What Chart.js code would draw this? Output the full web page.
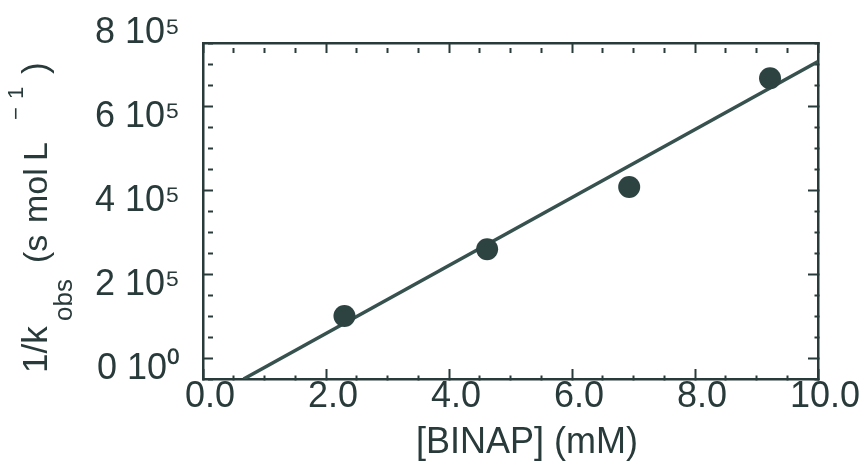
<!DOCTYPE html>
<html>
<head>
<meta charset="utf-8">
<script src="https://cdn.jsdelivr.net/npm/chart.js@4"></script>
<style>
body{margin:0;background:#fff;}
</style>
</head>
<body>
<canvas id="myChart" width="865" height="470"></canvas>
<script>
// measured points: [BINAP] (mM) vs 1/kobs (s mol L-1)
var binap = [2.30, 4.62, 6.93, 9.22];
var invKobs = [100000, 259000, 407000, 666000];

// straight fit line, two ends
var fitX = [0.66, 10];
var fitY = [-50000, 706000];

var xTicks = [0, 2, 4, 6, 8, 10];
var xTickLabels = ['0.0', '2.0', '4.0', '6.0', '8.0', '10.0'];
var yTicks = [0, 200000, 400000, 600000, 800000];
var yTickLabels = ['0 10\u2070', '2 10\u2075', '4 10\u2075', '6 10\u2075', '8 10\u2075'];

var ink = '#283a39';
var font = 'Liberation Sans';

var pts = [];
for (let i = 0; i < binap.length; i++) {
    pts.push({x: binap[i], y: invKobs[i]});
}
var fit = [];
for (let i = 0; i < fitX.length; i++) {
    fit.push({x: fitX[i], y: fitY[i]});
}

function isMajorX(v) { return xTicks.indexOf(v) >= 0; }
function isMajorY(v) { return yTicks.indexOf(v) >= 0; }

function gridFor(isMajor) {
    return {
        drawOnChartArea: false,
        drawTicks: true,
        tickLength: -10,
        tickWidth: 2,
        tickColor: function(c) { return c.tick && c.tick.value > 750000 ? 'rgba(0,0,0,0)' : ink; },
        tickBorderDash: function(c) { return c.tick && isMajor(c.tick.value) ? [] : [5, 60]; }
    };
}
var border = {display: true, color: ink, width: 2.5};

// no extra room for labels hanging over the ends
function noPad(s) {
    s.paddingTop = 0; s.paddingBottom = 0; s.paddingLeft = 0; s.paddingRight = 0;
}

// axis titles with sub/superscripts
var titles = {
    id: 'titles',
    afterDraw: function(chart) {
        var ctx = chart.ctx;
        ctx.save();
        ctx.fillStyle = ink;
        ctx.textBaseline = 'alphabetic';
        ctx.font = '36px "' + font + '"';
        ctx.textAlign = 'center';
        ctx.fillText('[BINAP] (mM)', 527, 453);

        ctx.textAlign = 'left';
        ctx.translate(47, 373);
        ctx.rotate(-Math.PI / 2);
        // text, start, size, shift
        var parts = [
            ['1/k', 0, 35, 0],
            ['obs', 52, 26, 25],
            ['(s', 110, 34, 0],
            ['mol', 150, 34, 0],
            ['L', 212, 34, 0],
            ['\u2212', 253, 22, -24],
            ['1', 274, 22, -24],
            [')', 299, 35, 0]
        ];
        for (let i = 0; i < parts.length; i++) {
            ctx.font = parts[i][2] + 'px "' + font + '"';
            ctx.fillText(parts[i][0], parts[i][1], parts[i][3]);
        }
        ctx.restore();
    }
};

var ctx = document.getElementById('myChart').getContext('2d');
var chart = new Chart(ctx, {
    type: 'scatter',
    data: {
        datasets: [{
            label: 'data',
            data: pts,
            backgroundColor: '#2c4341',
            borderWidth: 0,
            pointRadius: 11,
            order: 0
        }, {
            label: 'fit',
            type: 'line',
            data: fit,
            borderColor: '#37514f',
            borderWidth: 3.5,
            pointRadius: 0,
            fill: false,
            order: 1
        }]
    },
    options: {
        responsive: false,
        animation: false,
        layout: {padding: 0},
        plugins: {legend: {display: false}, tooltip: {enabled: false}},
        scales: {
            x: {
                type: 'linear', position: 'bottom', min: 0, max: 10,
                afterFit: function(s) { s.height = 91; noPad(s); },
                grid: gridFor(isMajorX), border: border,
                ticks: {
                    stepSize: 0.5, autoSkip: false, maxRotation: 0, padding: 6, labelOffset: 7,
                    color: ink, font: {family: font, size: 36},
                    callback: function(v) { var i = xTicks.indexOf(v); return i >= 0 ? xTickLabels[i] : ''; }
                }
            },
            x2: {
                type: 'linear', position: 'top', min: 0, max: 10,
                afterFit: function(s) { s.height = 43; noPad(s); },
                grid: gridFor(isMajorX), border: border,
                ticks: {stepSize: 0.5, autoSkip: false, display: false}
            },
            y: {
                type: 'linear', position: 'left', min: -50000, max: 750000,
                afterFit: function(s) { s.width = 203; noPad(s); },
                afterBuildTicks: function(s) { s.ticks.push({value: 800000}); },
                grid: gridFor(isMajorY), border: border,
                ticks: {
                    stepSize: 50000, autoSkip: false, padding: 33, labelOffset: 11,
                    color: ink, font: {family: font, size: 36},
                    callback: function(v) { var i = yTicks.indexOf(v); return i >= 0 ? yTickLabels[i] : ''; }
                }
            },
            y2: {
                type: 'linear', position: 'right', min: -50000, max: 750000,
                afterFit: function(s) { s.width = 47; noPad(s); },
                grid: gridFor(isMajorY), border: border,
                ticks: {stepSize: 50000, autoSkip: false, display: false}
            }
        }
    },
    plugins: [titles]
});
</script>
</body>
</html>
